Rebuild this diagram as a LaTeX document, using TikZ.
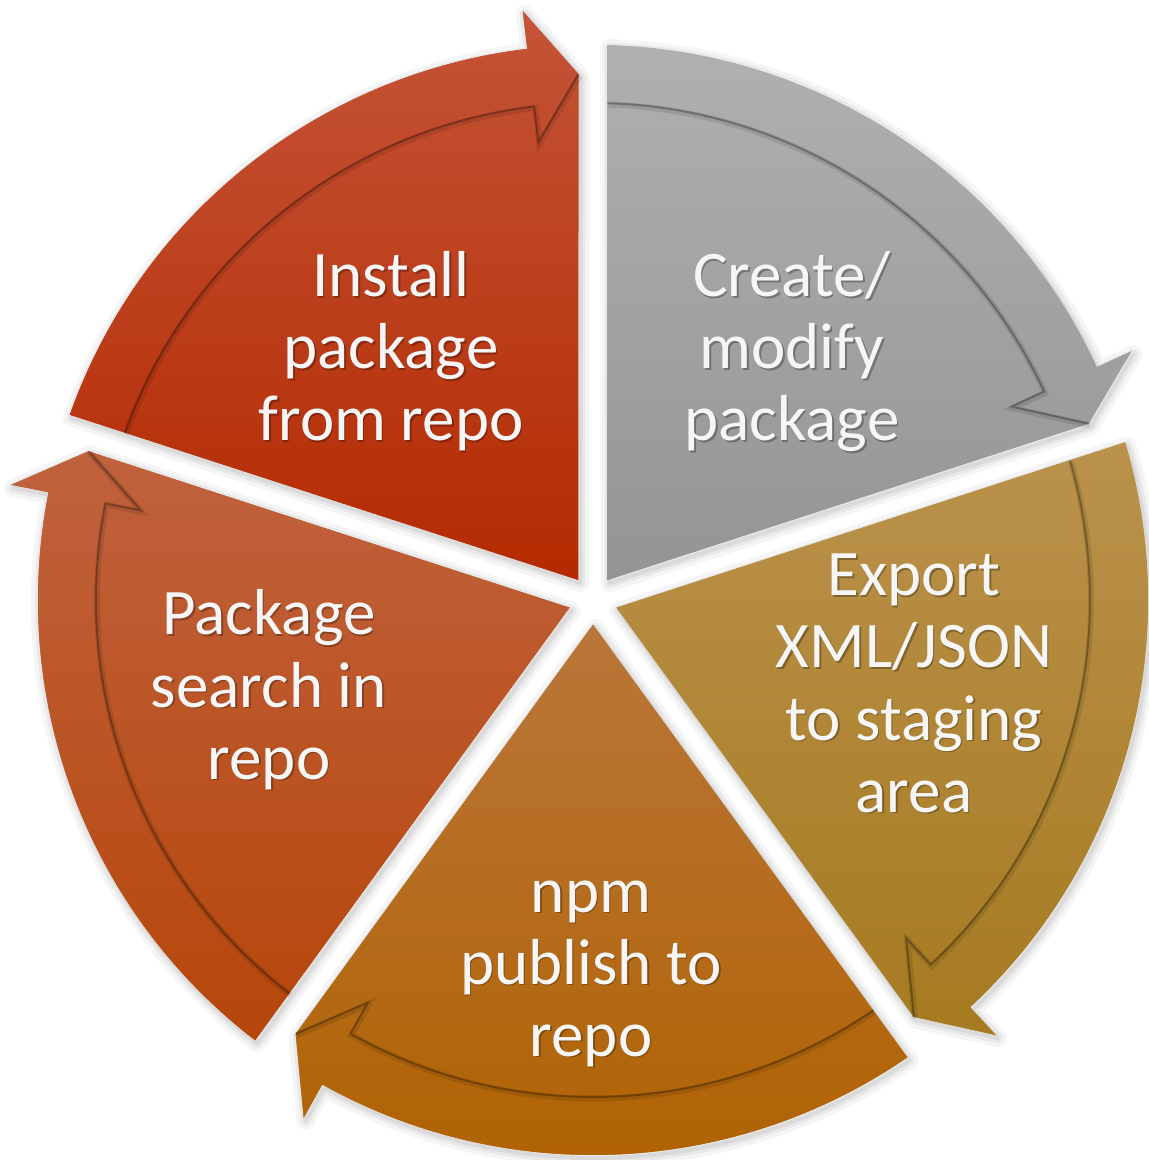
\documentclass[tikz,border=0pt]{standalone}
\usepackage{fontspec}
\setmainfont{Carlito}
\definecolor{installTop}{RGB}{196,84,56}
\definecolor{installBot}{RGB}{180,42,0}
\definecolor{createTop}{RGB}{176,176,176}
\definecolor{createBot}{RGB}{148,148,148}
\definecolor{exportTop}{RGB}{186,146,76}
\definecolor{exportBot}{RGB}{166,122,32}
\definecolor{npmTop}{RGB}{186,118,58}
\definecolor{npmBot}{RGB}{176,98,0}
\definecolor{searchTop}{RGB}{192,98,62}
\definecolor{searchBot}{RGB}{182,70,10}
\definecolor{lbltext}{RGB}{246,246,246}
% segment silhouette: head boundary at angle #1, wedge spans 72 degrees counterclockwise
\newcommand\segshape[2]{\path[#2] ({#1+36}:24.7) -- ({#1+1.58}:526) -- ({#1+6.8}:593) -- ({#1+6.8}:555)
  arc[start angle={#1+6.8}, end angle={#1+70.503}, radius=555] -- cycle;}
% inner edge of the arrow band
\newcommand\segedge[2]{\path[#2] ({#1+70.33}:497) arc[start angle={#1+70.33}, end angle={#1+6.8}, radius=497]
  -- ({#1+6.8}:461) -- ({#1+1.58}:526);}
\newcommand\cycseg[3]{%
  \segshape{#1}{fill=#2!50!#3}%
  \segshape{#1}{top color=#2, bottom color=#3}%
  \segedge{#1}{draw=black, draw opacity=0.10, line width=3pt, shift={(1,-1.5)}}%
  \segedge{#1}{draw=black, draw opacity=0.28, line width=1pt}%
}
\newcommand\segshadow[1]{%
  \segshape{#1}{shift={(2,-3)}, draw=black, draw opacity=0.04, line width=9pt, line join=round}%
  \segshape{#1}{shift={(2,-3)}, draw=black, draw opacity=0.05, line width=5pt, line join=round}%
  \segshape{#1}{shift={(2,-3)}, draw=black, draw opacity=0.06, line width=2pt, line join=round}%
}
\tikzset{
  lbl/.style={align=center, text=lbltext, inner sep=0pt, font=\fontsize{32.5}{36}\selectfont},
  lblshadow/.style={lbl, text=black, text opacity=0.28},
}
\begin{document}
\begin{tikzpicture}[x=0.5pt, y=0.5pt]
\useasboundingbox (-593,-560) rectangle (556,600);
\fill[white] (-593,-560) rectangle (556,600);
% soft shadows
\segshadow{90}
\segshadow{18}
\segshadow{-54}
\segshadow{-126}
\segshadow{-198}
% segments
\cycseg{90}{installTop}{installBot}
\cycseg{18}{createTop}{createBot}
\cycseg{-54}{exportTop}{exportBot}
\cycseg{-126}{npmTop}{npmBot}
\cycseg{-198}{searchTop}{searchBot}
% labels (shadow copy, then text)
\node[lblshadow] (s1) at (-200.5,243.9) {\strut Install\\\strut package\\\strut from repo};
\node[lbl] (t1) at (-202,245.4) {\strut Install\\\strut package\\\strut from repo};
\node[lblshadow] (s2) at (200.5,243.9) {\strut Create/\\\strut modify\\\strut package};
\node[lbl] (t2) at (199,245.4) {\strut Create/\\\strut modify\\\strut package};
\node[lblshadow] (s3) at (322.5,-91.1) {\strut Export\\\strut XML/JSON\\\strut to staging\\\strut area};
\node[lbl] (t3) at (321,-89.6) {\strut Export\\\strut XML/JSON\\\strut to staging\\\strut area};
\node[lblshadow] (s4) at (-0.5,-371.1) {\strut npm\\\strut publish to\\\strut repo};
\node[lbl] (t4) at (-2,-369.6) {\strut npm\\\strut publish to\\\strut repo};
\node[lblshadow] (s5) at (-322.5,-94.1) {\strut Package\\\strut search in\\\strut repo};
\node[lbl] (t5) at (-324,-92.6) {\strut Package\\\strut search in\\\strut repo};
\end{tikzpicture}
\end{document}
